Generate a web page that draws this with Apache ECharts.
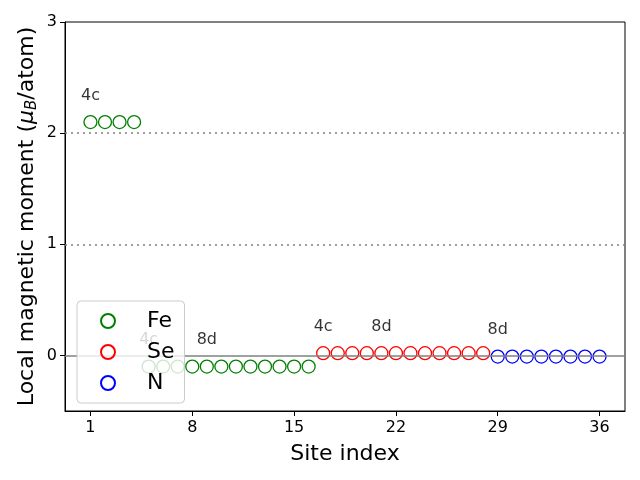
<!DOCTYPE html>
<html>
<head>
<meta charset="utf-8">
<script src="https://cdn.jsdelivr.net/npm/echarts@6/dist/echarts.min.js"></script>
<style>html,body{margin:0;padding:0;background:#fff}#c{width:640px;height:480px}</style>
</head>
<body>
<div id="c"></div>
<script>
const feSites = [1,2,3,4,5,6,7,8,9,10,11,12,13,14,15,16];
const feMoments = [2.1,2.1,2.1,2.1,-0.1,-0.1,-0.1,-0.1,-0.1,-0.1,-0.1,-0.1,-0.1,-0.1,-0.1,-0.1];
const seSites = [17,18,19,20,21,22,23,24,25,26,27,28];
const seMoments = [0.02,0.02,0.02,0.02,0.02,0.02,0.02,0.02,0.02,0.02,0.02,0.02];
const nSites = [29,30,31,32,33,34,35,36];
const nMoments = [-0.01,-0.01,-0.01,-0.01,-0.01,-0.01,-0.01,-0.01];
const annX = [1,5,9,17,21,29];
const annY = [2.3,0.1,0.1,0.22,0.22,0.19];
const annText = ['4c','4c','8d','4c','8d','8d'];
const xTicks = [1,8,15,22,29,36];
const yTicks = [0,1,2,3];
const refLines = [2,1];

const FONT = 'DejaVu Sans';
const chart = echarts.init(document.getElementById('c'), null, {renderer:'canvas'});
function pts(xs, ys){ return xs.map((x,i)=>[x, ys[i]]); }
function scat(name, xs, ys, color){
  return {
    name, type:'scatter', data: pts(xs, ys), symbol:'circle', symbolSize:13,
    itemStyle:{color:'rgba(0,0,0,0)', borderColor:color, borderWidth:1.3, opacity:1},
    emphasis:{disabled:true}, z:3
  };
}
const option = {
  animation:false,
  backgroundColor:'#fff',
  grid:{left:65, right:15, top:22, bottom:69, show:true, borderColor:'#000', borderWidth:1, backgroundColor:'transparent'},
  xAxis:{
    type:'value', min:-0.75, max:37.75,
    name:'Site index', nameLocation:'middle', nameGap:32, nameMoveOverlap:false,
    nameTextStyle:{fontFamily:FONT, fontSize:22, color:'#000'},
    axisLine:{show:true, onZero:false, lineStyle:{color:'#000', width:1}},
    axisTick:{show:true, length:5, lineStyle:{color:'#000'}, customValues:xTicks},
    axisLabel:{fontFamily:FONT, fontSize:16, color:'#000', margin:9, customValues:xTicks},
    splitLine:{show:false}
  },
  yAxis:{
    type:'value', min:-0.5, max:3,
    name:'{a|Local magnetic moment (}{i|μ}{s|B}{a|/atom)}', nameLocation:'middle', nameGap:25, nameRotate:90, nameMoveOverlap:false,
    nameTextStyle:{fontFamily:FONT, fontSize:22, color:'#000', lineHeight:26,
      rich:{
        a:{fontFamily:FONT, fontSize:22, color:'#000', lineHeight:26},
        i:{fontFamily:FONT, fontSize:22, fontStyle:'italic', color:'#000', lineHeight:26},
        s:{fontFamily:FONT, fontSize:15, fontStyle:'italic', color:'#000', lineHeight:26, padding:[10,0,0,0]}
      }},
    axisLine:{show:true, onZero:false, lineStyle:{color:'#000', width:1}},
    axisTick:{show:true, length:5, lineStyle:{color:'#000'}, customValues:yTicks},
    axisLabel:{fontFamily:FONT, fontSize:16, color:'#000', margin:8, customValues:yTicks},
    splitLine:{show:false}
  },
  legend:{
    data:['Fe','Se','N'], orient:'vertical', left:77, top:301,
    backgroundColor:'rgba(255,255,255,0.8)', borderColor:'#cccccc', borderWidth:1, borderRadius:4,
    padding:[9,10,9,23], itemGap:9, itemWidth:14, itemHeight:14,
    textStyle:{fontFamily:FONT, fontSize:22, color:'#000', padding:[0,0,0,27]},
    z:10
  },
  series:[
    Object.assign(scat('Fe', feSites, feMoments, '#008000'), {
      markLine:{silent:true, symbol:'none', label:{show:false},
        data:[
          ...refLines.map(v=>({yAxis:v, lineStyle:{color:'#808080', type:[2,4], width:1.6}})),
          {yAxis:0, lineStyle:{color:'#808080', type:'solid', width:1.6}}
        ]}
    }),
    scat('Se', seSites, seMoments, '#ff0000'),
    scat('N', nSites, nMoments, '#0000ff'),
    {
      name:'ann', type:'scatter', symbolSize:0, data: annX.map((x,i)=>[x, annY[i], annText[i]]),
      label:{show:true, position:'top', distance:0, offset:[0,4], formatter:p=>p.data[2],
        fontFamily:FONT, fontSize:16, color:'#000'},
      emphasis:{disabled:true}, z:3
    }
  ]
};
chart.setOption(option);
</script>
</body>
</html>
